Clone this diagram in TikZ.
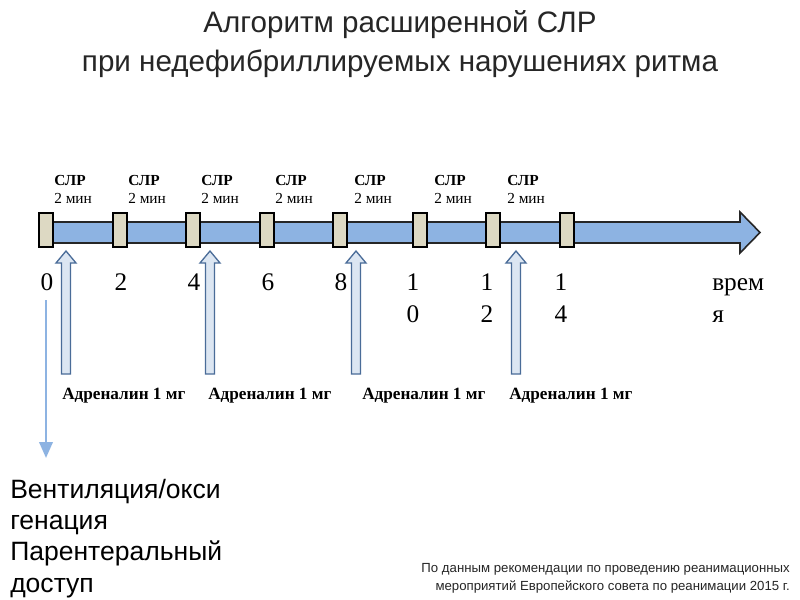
\documentclass[tikz,border=0pt]{standalone}
\usepackage{fontspec}
\setmainfont{Liberation Serif}
\setsansfont{Liberation Sans}
\usetikzlibrary{arrows.meta}
\definecolor{barblue}{HTML}{8DB3E2}
\definecolor{boxbeige}{HTML}{DDD9C3}
\definecolor{arrfill}{HTML}{DCE6F2}
\definecolor{arrline}{HTML}{4A6C98}
\definecolor{thinblue}{HTML}{8DB3E2}
\definecolor{txtgray}{HTML}{262626}
\begin{document}
\begin{tikzpicture}[x=0.75pt,y=-0.75pt,
  titletext/.style={font=\sffamily\fontsize{22.2}{26}\selectfont, text=txtgray, anchor=base, inner sep=0pt},
  tickbox/.style={draw=black, line width=1pt, fill=boxbeige, minimum width=10.5pt, minimum height=25.5pt, inner sep=0pt},
  cprlabel/.style={font=\fontsize{11.5}{13}\selectfont, anchor=base west, inner sep=0pt, align=left},
  numlabel/.style={font=\fontsize{19}{24}\selectfont, anchor=base, inner sep=0pt},
  adrlabel/.style={font=\bfseries\fontsize{12.9}{14}\selectfont, anchor=base west, inner sep=0pt},
  blockarrow/.style={draw=arrline, fill=arrfill, line width=1pt, line join=miter},
  sidetext/.style={font=\sffamily\fontsize{19.9}{23.5}\selectfont, anchor=base west, inner sep=0pt, align=left, text=black},
  foot/.style={font=\sffamily\fontsize{9.9}{13.5}\selectfont, anchor=base east, inner sep=0pt, align=right, text=txtgray}
]
\useasboundingbox (0,0) rectangle (800,600);
\fill[white] (0,0) rectangle (800,600);

% title
\node[titletext] (t1) at (400,32) {Алгоритм расширенной СЛР};
\node[titletext] (t2) at (400,71) {при недефибриллируемых нарушениях ритма};

% timeline
\draw[fill=barblue, draw=black!85, line width=1.2pt, line join=miter]
  (46,222) -- (740,222) -- (740,212) -- (760,232.5) -- (740,253) -- (740,243) -- (46,243) -- cycle;
\foreach \x/\n in {46/b0,120/b1,193/b2,267/b3,340/b4,420/b5,493/b6,567/b7}
  \node[tickbox] (\n) at (\x,230) {};

% CPR labels
\foreach \x/\n in {54/c1,128/c2,201/c3,275/c4,354/c5,434/c6,507/c7}{
  \node[cprlabel] (\n) at (\x,185) {\textbf{СЛР}};
  \node[cprlabel] (\n m) at (\x,203) {2 мин};
}

% time numbers
\node[numlabel] (n0) at (47,290) {0};
\node[numlabel] (n2) at (121,290) {2};
\node[numlabel] (n4) at (194,290) {4};
\node[numlabel] (n6) at (268,290) {6};
\node[numlabel] (n8) at (341,290) {8};
\node[numlabel] (n10a) at (413,290) {1};
\node[numlabel] (n10b) at (413,322) {0};
\node[numlabel] (n12a) at (487,290) {1};
\node[numlabel] (n12b) at (487,322) {2};
\node[numlabel] (n14a) at (561,290) {1};
\node[numlabel] (n14b) at (561,322) {4};
\node[numlabel, anchor=base west] (vr1) at (712,290) {врем};
\node[numlabel, anchor=base west] (vr2) at (712,322) {я};

% adrenaline block arrows
\foreach \x in {66,210,356,516}{
  \path[blockarrow] (\x-4.5,374) -- (\x-4.5,263) -- (\x-10,263) -- (\x,251)
     -- (\x+10,263) -- (\x+4.5,263) -- (\x+4.5,374) -- cycle;
}
\node[adrlabel] (a1) at (62,399) {Адреналин 1 мг};
\node[adrlabel] (a2) at (208,399) {Адреналин 1 мг};
\node[adrlabel] (a3) at (362,399) {Адреналин 1 мг};
\node[adrlabel] (a4) at (509,399) {Адреналин 1 мг};

% thin arrow down
\coordinate (d0) at (46,300);
\coordinate (d1) at (46,458);
\draw[thinblue, line width=2pt, -{Triangle[length=12pt, width=10pt]}] (d0) -- (d1);

% side text (base anchor = last line)
\node[sidetext] (side) at (10,592) {Вентиляция/окси\\генация\\Парентеральный\\доступ};

% footnote
\node[foot] (fn) at (790,590) {По данным рекомендации по проведению реанимационных\\мероприятий Европейского совета по реанимации 2015 г.};
\end{tikzpicture}
\end{document}
